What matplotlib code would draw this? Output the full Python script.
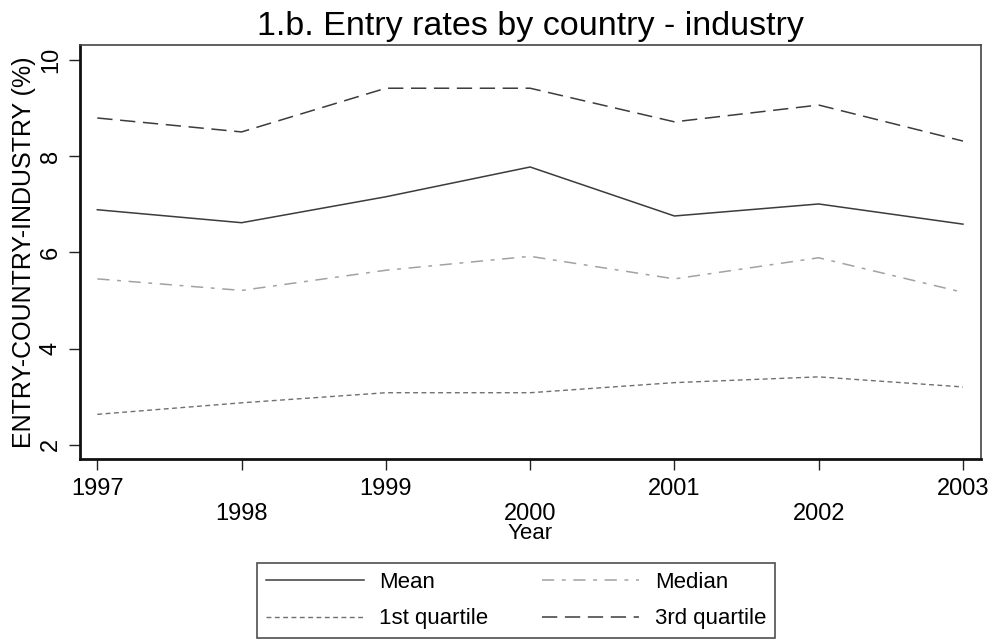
import matplotlib
matplotlib.use("Agg")
import matplotlib.pyplot as plt
from matplotlib.lines import Line2D

years = [1997, 1998, 1999, 2000, 2001, 2002, 2003]
mean_rate = [6.89, 6.62, 7.16, 7.78, 6.76, 7.01, 6.59]
median_rate = [5.45, 5.21, 5.63, 5.92, 5.45, 5.89, 5.17]
q1_rate = [2.63, 2.87, 3.08, 3.08, 3.29, 3.41, 3.20]
q3_rate = [8.80, 8.51, 9.42, 9.42, 8.72, 9.07, 8.32]
y_ticks = [2, 4, 6, 8, 10]

plt.rcParams["font.family"] = ["Liberation Sans", "DejaVu Sans"]

W, H = 996, 640
fig = plt.figure(figsize=(W / 100, H / 100), dpi=100)
ax = fig.add_axes([80 / W, 1 - 459 / H, 901 / W, 414 / H])

styles = {
    "Mean": dict(color="#3c3c3c", lw=1.1, ls="-"),
    "Median": dict(color="#a2a2a2", lw=1.1, ls=(0, (8, 5, 2.5, 5))),
    "1st quartile": dict(color="#707070", lw=1.0, ls=(0, (3.5, 2.5))),
    "3rd quartile": dict(color="#3c3c3c", lw=1.1, ls=(0, (10, 5))),
}
series = {
    "Mean": mean_rate,
    "Median": median_rate,
    "1st quartile": q1_rate,
    "3rd quartile": q3_rate,
}
for name, vals in series.items():
    ax.plot(years, vals, **styles[name])

ax.set_xlim(1996.88, 2003.125)
ax.set_ylim(1.70, 10.32)

ax.set_yticks(y_ticks)
ax.set_yticklabels([str(v) for v in y_ticks], rotation=90, va="center",
                   fontsize=17)
ax.set_xticks(years)
ax.set_xticklabels([str(y) for y in years], fontsize=17)
ax.tick_params(axis="both", length=8, width=1.0, color="#222222")
ax.tick_params(axis="x", pad=5.5)
ax.tick_params(axis="y", pad=5)
# stagger the year labels on two rows
for i, tick in enumerate(ax.xaxis.get_major_ticks()):
    if i % 2 == 1:
        tick.set_pad(23.5)

for side in ["top", "right"]:
    ax.spines[side].set_linewidth(1.2)
    ax.spines[side].set_color("#444444")
for side in ["left", "bottom"]:
    ax.spines[side].set_linewidth(2.0)
    ax.spines[side].set_color("#111111")

ax.set_ylabel("ENTRY-COUNTRY-INDUSTRY (%)", fontsize=18, labelpad=3)
ax.set_xlabel("Year", fontsize=16)
ax.xaxis.set_label_coords(0.5, (640 - 523 - 181) / 414)

ax.set_title("1.b. Entry rates by country - industry", fontsize=24.5,
             pad=7)

order = ["Mean", "1st quartile", "Median", "3rd quartile"]
handles = [Line2D([0], [0], **styles[n]) for n in order]
leg = fig.legend(handles, order, ncol=2, loc="upper left",
                 bbox_to_anchor=(257 / W, 1 - 563 / H),
                 borderaxespad=0, fontsize=16, handlelength=4.4,
                 handletextpad=0.7, columnspacing=2.4, labelspacing=0.7,
                 borderpad=0.4, frameon=True, fancybox=False)
leg.get_frame().set_edgecolor("#222222")
leg.get_frame().set_linewidth(1.2)

fig.savefig("out.png", dpi=100, facecolor="white")
